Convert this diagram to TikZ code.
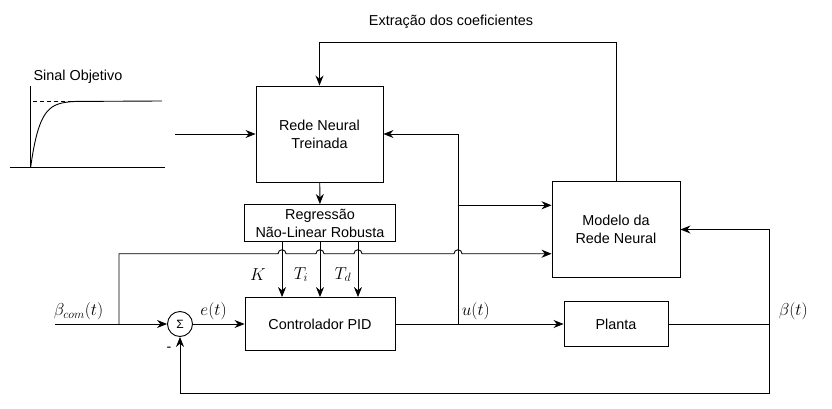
\documentclass[tikz,border=0pt]{standalone}
\usepackage{fontspec}
\setmainfont{Liberation Sans}
\usetikzlibrary{arrows.meta,positioning,calc}

\begin{document}
\begin{tikzpicture}[x=1pt,y=-1pt,>={Stealth[length=10pt,width=8pt]},line width=0.9pt,
  every node/.style={font=\Large},
  bloco/.style={draw,align=center,inner sep=0pt},
  rotulo/.style={font=\LARGE}]
\useasboundingbox (0,0) rectangle (832,409);

% blocos
\node[bloco,minimum width=127,minimum height=96] (rede) at (319.5,134) {Rede Neural\\Treinada};
\node[bloco,minimum width=151,minimum height=37] (reg) at (320,223) {Regressão\\Não-Linear Robusta};
\node[bloco,minimum width=150,minimum height=53] (pid) at (320,324) {Controlador PID};
\node[bloco,minimum width=104,minimum height=45] (planta) at (616,324) {Planta};
\node[bloco,minimum width=128,minimum height=96] (modelo) at (616,229.5) {Modelo da\\Rede Neural};
\node[draw,circle,minimum size=25,inner sep=0pt,font=\large] (soma) at (180,324) {Σ};
\node (extr) at (451,22) {Extração dos coeficientes};
\node (sinal) at (78,77) {Sinal Objetivo};

% sinal objetivo
\draw (30.7,86) -- (30.7,167);
\draw (10,167) -- (165,167);
\draw[dash pattern=on 4pt off 3pt,line width=0.7pt] (33,101) -- (74,101);
\draw plot[domain=0:45,samples=40] ({30.7+\x},{167-66*(1-exp(-\x/9))}) -- (162,101);

\coordinate (ent) at (175,134);
\coordinate (bcom) at (55,324);
\coordinate (ramo) at (119,324);
\coordinate (usai) at (458,324);
\coordinate (bsai) at (769,324);
\coordinate (m1) at ($(modelo.north west)!.25!(modelo.south west)$);
\coordinate (m2) at ($(modelo.north west)!.75!(modelo.south west)$);

\draw[->] (modelo.north) -- ++(0,-139) -| (rede.north);
\draw[->] (ent) -- (rede);
\draw[->] (rede) -- (reg);
\foreach \f/\n/\lab/\dx in {.25/k/K/-24, .5/ti/T_i/-19, .75/td/T_d/-15} {
  \coordinate (\n) at ($(reg.south west)!\f!(reg.south east)$);
  \draw[->] (\n) -- (\n |- pid.north);
  \node[rotulo] (lab\n) at ($(\n)+(\dx,32.5)$) {$\lab$};
}
\draw[->] (ramo) |- ($(k |- m2)+(-4,0)$) arc[start angle=180,end angle=360,radius=4]
  -- ($(ti |- m2)+(-4,0)$) arc[start angle=180,end angle=360,radius=4]
  -- ($(td |- m2)+(-4,0)$) arc[start angle=180,end angle=360,radius=4]
  -- ($(usai |- m2)+(-4,0)$) arc[start angle=180,end angle=360,radius=4]
  -- (m2);

\draw[->] (bcom) -- (soma);
\node[rotulo,above right,xshift=-5pt] (labbc) at (bcom) {$\beta_{com}(t)$};
\draw[->] (soma) -- (pid) node[rotulo,pos=.4,above] (labe) {$e(t)$};
\node (menos) at (169,349) {-};
\draw[->] (pid) -- (planta);
\node[rotulo,above right] (labu) at (usai) {$u(t)$};
\draw[->] (usai) |- (rede);
\draw[->] (usai |- m1) -- (m1);
\draw (planta) -- (bsai);
\node[rotulo,above right,xshift=6pt] (labb) at (bsai) {$\beta(t)$};
\draw[->] (bsai) |- (modelo);
\draw[->] (bsai) -- ++(0,69) -| (soma);
\end{tikzpicture}
\end{document}
